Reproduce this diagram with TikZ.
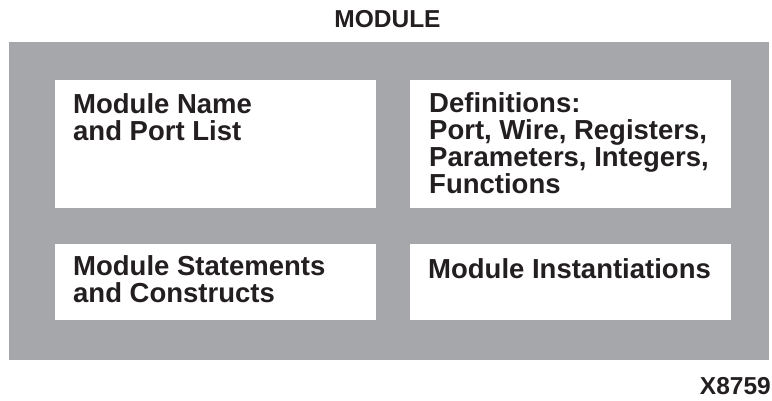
\documentclass[tikz,border=0pt]{standalone}
\usepackage{fontspec}
\setmainfont{Liberation Sans}
\definecolor{modgray}{RGB}{166,167,171}
\definecolor{ink}{RGB}{35,31,32}
\newcommand\mlines[1]{\vtop{\baselineskip=27pt\lineskiplimit=-100pt\lineskip=0pt #1}}
\begin{document}
\begin{tikzpicture}[x=1pt,y=-1pt,
  box/.style={fill=white,draw=none,inner sep=0,outer sep=0,anchor=north west,minimum width=321pt},
  boxtext/.style={inner sep=0,anchor=base west,text=ink,font=\fontsize{27.5}{27}\selectfont\bfseries},
  captext/.style={inner sep=0,text=ink,font=\fontsize{24.5}{24.5}\selectfont\bfseries}]
\useasboundingbox (0,0) rectangle (772,401);
\node[fill=modgray,draw=none,inner sep=0,outer sep=0,anchor=north west,minimum width=760pt,minimum height=318pt] (module) at (9,42) {};
\node[box,minimum height=128pt] (name) at (55,80) {};
\node[box,minimum height=128pt] (defs) at (410,80) {};
\node[box,minimum height=76pt] (stmts) at (55,244) {};
\node[box,minimum height=76pt] (inst) at (410,244) {};
\node[boxtext] (nametext) at (73,114) {\mlines{\hbox{Module Name}\hbox{and Port List}}};
\node[boxtext] (defstext) at (429,113) {\mlines{\hbox{Definitions:}\hbox{Port, Wire, Registers,}\hbox{Parameters, Integers,}\hbox{Functions}}};
\node[boxtext] (stmtstext) at (73,276) {\mlines{\hbox{Module Statements}\hbox{and Constructs}}};
\node[boxtext] (insttext) at (428,278) {Module Instantiations};
\node[captext,anchor=base] (title) at (387.5,28) {MODULE};
\node[captext,anchor=base east] (figid) at (771,394) {X8759};
\end{tikzpicture}
\end{document}
